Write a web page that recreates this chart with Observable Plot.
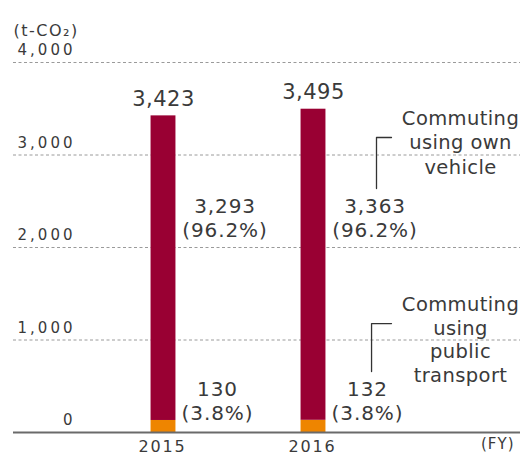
<!DOCTYPE html>
<html>
<head>
<meta charset="utf-8">
<script src="https://cdn.jsdelivr.net/npm/d3@7"></script>
<script src="https://cdn.jsdelivr.net/npm/@observablehq/plot@0.6"></script>
<style>
  html, body { margin: 0; padding: 0; background: #fff; }
  #chart svg { display: block; }
</style>
</head>
<body>
<div id="chart"></div>
<script>
// ---- data ----
const years = [2015, 2016];
const yearLabels = ["2015", "2016"];
const ownVehicle = [3293, 3363];
const publicTransport = [130, 132];
const totals = [3423, 3495];
const ownShare = ["96.2%", "96.2%"];
const publicShare = ["3.8%", "3.8%"];
const seriesNames = ["Commuting using public transport", "Commuting using own vehicle"];
const seriesColors = ["#ee8500", "#990033"];
const yTicks = [0, 1000, 2000, 3000, 4000];
const yTickLabels = ["0", "1,000", "2,000", "3,000", "4,000"];
const unitLabel = "(t-CO₂)";
const fyLabel = "(FY)";
const ownNote = "Commuting\nusing own\nvehicle";
const publicNote = "Commuting\nusing\npublic\ntransport";

// ---- table for stacking ----
const rows = [];
years.forEach((yr, i) => {
  rows.push({year: yr, series: seriesNames[0], value: publicTransport[i]});
  rows.push({year: yr, series: seriesNames[1], value: ownVehicle[i]});
});
const fmt = d3.format(",");
const totalRows = years.map((yr, i) => ({year: yr, total: totals[i]}));
const ownLabelRows = years.map((yr, i) => ({year: yr, label: fmt(ownVehicle[i]) + "\n(" + ownShare[i] + ")"}));
const pubLabelRows = years.map((yr, i) => ({year: yr, label: fmt(publicTransport[i]) + "\n(" + publicShare[i] + ")"}));
const tickRows = yTicks.map((v, i) => ({v, label: yTickLabels[i]}));
const xTickRows = years.map((yr, i) => ({year: yr, label: yearLabels[i]}));

const half = 0.083;        // half bar width in years
const ink = "#3a3a3a";
const font = "DejaVu Sans";

// annotation anchors (data coordinates)
const noteX = 2016.98;
const bracketTop = [[2016.52, 3189], [2016.42, 3189], [2016.42, 2638]];
const bracketPub = [[2016.52, 1178], [2016.387, 1178], [2016.387, 659]];

const chart = Plot.plot({
  width: 520,
  height: 458,
  marginTop: 62,
  marginBottom: 26,
  marginLeft: 13,
  marginRight: 0,
  style: {fontFamily: font, color: ink, background: "#fff"},
  x: {type: "linear", domain: [2014, 2017.38], axis: null},
  y: {domain: [0, 4000], axis: null},
  color: {domain: seriesNames, range: seriesColors},
  marks: [
    Plot.ruleY(yTicks.filter(v => v > 0), {stroke: "#9a9a9a", strokeWidth: 1, strokeDasharray: "3,2.5"}),
    Plot.rectY(rows, {
      x1: d => d.year - half,
      x2: d => d.year + half,
      y: "value",
      fill: "series"
    }),
    Plot.ruleY([0], {stroke: "#6a6a6a", strokeWidth: 2}),
    // y tick labels
    Plot.text(tickRows, {
      y: "v", text: "label", frameAnchor: "left", textAnchor: "end",
      dx: 62, dy: -12, fontSize: 15, fill: ink
    }),
    // unit label
    Plot.text([unitLabel], {
      text: d => d, frameAnchor: "top-left", textAnchor: "start",
      dy: -38, fontSize: 16, fill: ink
    }),
    // x tick labels
    Plot.text(xTickRows, {
      x: "year", text: "label", frameAnchor: "bottom",
      dy: 19, dx: -1, fontSize: 16, fill: ink
    }),
    Plot.text([fyLabel], {
      text: d => d, frameAnchor: "bottom-right", textAnchor: "end",
      dx: -6, dy: 16, fontSize: 15, fill: ink
    }),
    // totals
    Plot.text(totalRows, {
      x: "year", y: "total", text: d => fmt(d.total),
      dy: -17, fontSize: 21, fill: ink
    }),
    // segment labels
    Plot.text(ownLabelRows, {
      x: d => d.year + 0.41, y: () => 2324, text: "label",
      fontSize: 20, lineHeight: 1.2, fill: ink
    }),
    Plot.text(pubLabelRows, {
      x: d => d.year + 0.36, y: () => 346, text: "label",
      fontSize: 20, lineHeight: 1.2, fill: ink
    }),
    // series notes
    Plot.text([ownNote], {
      x: () => noteX, y: () => 3146, text: d => d,
      fontSize: 19.5, lineHeight: 1.28, fill: ink
    }),
    Plot.text([publicNote], {
      x: () => noteX, y: () => 1011, text: d => d,
      fontSize: 19.5, lineHeight: 1.22, fill: ink
    }),
    Plot.line(bracketTop, {x: d => d[0], y: d => d[1], stroke: "#333", strokeWidth: 1.3}),
    Plot.line(bracketPub, {x: d => d[0], y: d => d[1], stroke: "#333", strokeWidth: 1.3})
  ]
});
document.getElementById("chart").appendChild(chart);
// letter spacing per text element, keyed on its group's font size
const spacingBySize = {"15": 3, "16": 1.8, "21": 0.5, "20": 0.9, "19.5": 0.4};
d3.select(chart).selectAll("text").each(function() {
  const g = this.parentNode;
  const fs = g && g.getAttribute ? g.getAttribute("font-size") : null;
  let ls = fs != null && fs in spacingBySize ? spacingBySize[fs] : null;
  if (this.textContent === fyLabel) ls = 1;
  if (this.textContent === unitLabel) ls = 1.5;
  if (ls != null) this.setAttribute("letter-spacing", ls + "px");
});
</script>
</body>
</html>
